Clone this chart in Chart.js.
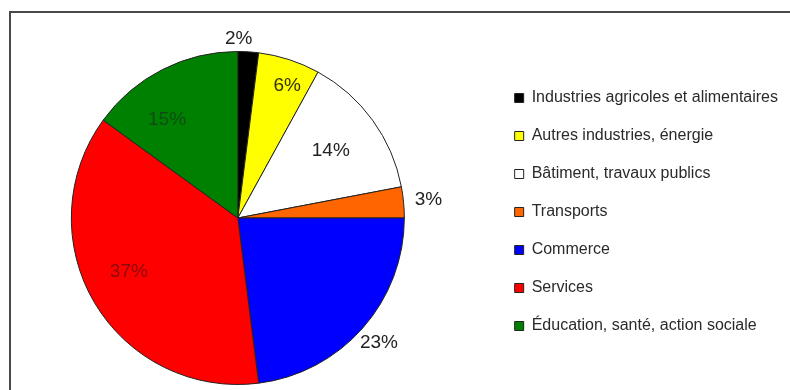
<!DOCTYPE html>
<html lang="fr">
<head>
    <meta charset="UTF-8">
    <title>Répartition par secteur</title>
    <style>
        body {
            margin: 0;
            background-color: #ffffff;
            overflow: hidden;
        }
        .wrap {
            position: relative;
            width: 790px;
            height: 390px;
            overflow: hidden;
        }
        .frame {
            position: absolute;
            left: 9px;
            top: 11px;
            width: 800px;
            height: 400px;
            border: 2px solid #4a4a4a;
        }
        /* le canvas déborde un peu à gauche pour centrer le camembert */
        canvas {
            position: absolute;
            left: -17px;
            top: 0;
        }
    </style>
</head>
<body>
    <div class="wrap">
        <div class="frame"></div>
        <canvas id="pieChart" width="807" height="390"></canvas>
    </div>

    <script src="https://cdn.jsdelivr.net/npm/chart.js"></script>
    <script>
        // Secteurs et parts (en %)
        const sectors = [
            'Industries agricoles et alimentaires',
            'Autres industries, énergie',
            'Bâtiment, travaux publics',
            'Transports',
            'Commerce',
            'Services',
            'Éducation, santé, action sociale'
        ];
        const shares = [2, 6, 14, 3, 23, 37, 15];
        const sliceColors = ['#000000', '#ffff00', '#ffffff', '#ff6600', '#0000ff', '#ff0000', '#008000'];

        // Placement des étiquettes : distance (x rayon) et petit décalage d'angle (degrés)
        const labelRadius = [1.075, 0.85, 0.69, 1.15, 1.13, 0.73, 0.725];
        const labelShift = [-3.3, 2.4, 0, 0, 0, 4.3, -8.9];
        const labelColors = ['#222222', '#333300', '#222222', '#222222', '#222222', '#8a0a0a', '#0e4d12'];

        // Dessine les pourcentages autour / dans les parts
        const percentLabels = {
            id: 'percentLabels',
            afterDatasetsDraw(chart) {
                const ctx = chart.ctx;
                const arcs = chart.getDatasetMeta(0).data;
                ctx.save();
                ctx.font = '19px "Liberation Sans", Arial, sans-serif';
                ctx.textAlign = 'center';
                ctx.textBaseline = 'middle';
                arcs.forEach((arc, i) => {
                    const p = arc.getProps(['x', 'y', 'startAngle', 'endAngle', 'outerRadius'], true);
                    const mid = (p.startAngle + p.endAngle) / 2 + labelShift[i] * Math.PI / 180;
                    const r = p.outerRadius * labelRadius[i];
                    ctx.fillStyle = labelColors[i];
                    ctx.fillText(shares[i] + '%', p.x + Math.cos(mid) * r, p.y + Math.sin(mid) * r);
                });
                ctx.restore();
            }
        };

        const ctx = document.getElementById('pieChart').getContext('2d');
        const chart = new Chart(ctx, {
            type: 'pie',
            data: {
                labels: sectors,
                datasets: [{
                    data: shares,
                    backgroundColor: sliceColors,
                    borderColor: '#222222',
                    borderWidth: 1
                }]
            },
            options: {
                responsive: false,
                animation: false,
                events: [],
                layout: {
                    padding: { left: 0, right: 2, top: 51, bottom: 5 }
                },
                plugins: {
                    tooltip: { enabled: false },
                    legend: {
                        position: 'right',
                        align: 'start',
                        title: {
                            display: true,
                            text: '',
                            font: { size: 12, lineHeight: 1 },
                            padding: { top: 5, bottom: 0 }
                        },
                        labels: {
                            boxWidth: 9,
                            boxHeight: 9,
                            padding: 22,
                            color: '#2a2a2a',
                            font: { family: '"Liberation Sans", Arial, sans-serif', size: 16 }
                        }
                    }
                }
            },
            plugins: [percentLabels]
        });
    </script>
</body>
</html>
